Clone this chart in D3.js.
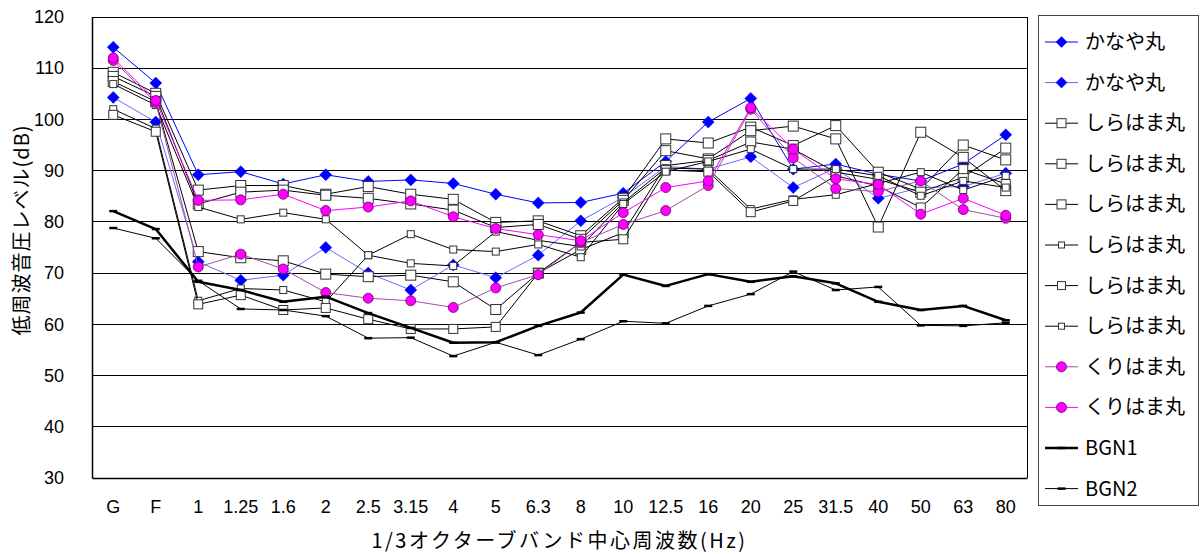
<!DOCTYPE html>
<html lang="ja">

<head>
    <meta charset="utf-8">
    <title>低周波音圧レベル</title>
    <script src="https://cdn.jsdelivr.net/npm/d3@7"></script>
    <style>
        body { margin: 0; background: #fff; }
        text { font-family: "Liberation Sans", Arial, "Noto Sans CJK JP", sans-serif; fill: #000; }
        .jp { font-family: "Noto Sans CJK JP", "Liberation Sans", sans-serif; }
    </style>
</head>

<body>
    <script type="text/javascript">
        // data
        var categories = ["G", "F", "1", "1.25", "1.6", "2", "2.5", "3.15", "4", "5", "6.3", "8", "10", "12.5", "16", "20", "25", "31.5", "40", "50", "63", "80"];
        var yTicks = [30, 40, 50, 60, 70, 80, 90, 100, 110, 120];

        var kanaya1 = [114.1, 107.1, 89.2, 89.8, 87.4, 89.2, 87.9, 88.2, 87.5, 85.4, 83.7, 83.8, 85.6, 91.8, 99.5, 104.1, 90.3, 91.3, 89.3, 88.0, 91.3, 97.0];
        var kanaya2 = [104.3, 99.5, 72.2, 68.6, 69.6, 75.0, 70.0, 66.7, 71.6, 69.1, 73.5, 80.2, 84.8, 90.8, 90.3, 92.7, 86.7, 90.5, 84.6, 86.7, 86.9, 89.5];
        var shira1 = [109.2, 105.1, 86.2, 87.1, 87.1, 85.4, 86.9, 85.4, 84.4, 79.9, 80.2, 77.3, 84.6, 96.2, 95.4, 98.5, 94.9, 98.8, 89.7, 86.4, 95.0, 92.1];
        var shira2 = [108.4, 104.5, 83.5, 85.8, 86.2, 85.2, 84.6, 83.5, 82.3, 78.9, 79.5, 76.6, 84.2, 93.9, 92.3, 97.8, 98.7, 96.2, 79.0, 97.5, 92.6, 86.1];
        var shira3 = [107.4, 103.5, 74.2, 73.0, 72.4, 69.8, 69.3, 69.6, 68.3, 62.9, 70.0, 74.6, 77.9, 91.0, 92.0, 95.6, 94.2, 89.7, 88.3, 85.8, 88.7, 94.4];
        var shira4 = [102.0, 98.2, 64.6, 67.0, 66.7, 64.4, 73.5, 71.9, 71.4, 78.1, 76.4, 75.2, 83.8, 90.5, 90.3, 82.5, 84.4, 85.3, 87.5, 89.7, 86.2, 89.0];
        var shira5 = [100.9, 97.6, 63.9, 65.7, 62.8, 63.2, 61.0, 59.1, 59.1, 59.5, 70.0, 76.0, 76.6, 90.1, 89.8, 81.9, 84.1, 89.0, 87.0, 82.8, 90.3, 87.4];
        var shira6 = [106.9, 102.8, 82.9, 80.5, 81.8, 80.5, 73.5, 77.6, 74.6, 74.2, 75.6, 73.1, 83.5, 89.8, 91.8, 94.2, 90.3, 90.3, 89.0, 85.1, 88.0, 86.7];
        var kuri1 = [111.5, 103.3, 71.2, 73.7, 70.8, 66.2, 65.1, 64.6, 63.3, 67.1, 69.7, 76.0, 79.5, 82.2, 87.1, 102.0, 92.5, 86.5, 85.9, 88.0, 82.4, 80.7];
        var kuri2 = [112.0, 103.7, 84.2, 84.3, 85.4, 82.2, 82.9, 84.1, 81.0, 78.7, 77.5, 76.3, 81.8, 86.7, 88.0, 102.3, 94.2, 88.4, 87.3, 81.5, 84.6, 81.3];
        var bgn1 = [82.1, 78.6, 68.3, 66.7, 64.4, 65.4, 62.2, 59.3, 56.4, 56.5, 59.7, 62.3, 69.7, 67.5, 69.8, 68.3, 69.4, 68.0, 64.4, 62.8, 63.6, 60.8];
        var bgn2 = [78.8, 76.8, 68.5, 63.0, 62.8, 61.6, 57.3, 57.4, 53.8, 56.5, 54.0, 57.1, 60.6, 60.2, 63.6, 65.9, 70.3, 66.7, 67.3, 59.8, 59.7, 60.3];

        // series table built from the arrays above (draw order = legend order)
        var series = [
            { name: "かなや丸", values: kanaya1, line: "#0000ff", lw: 1, marker: "diamond", size: 6, fill: "#0000ff", stroke: "#0000ff" },
            { name: "かなや丸", values: kanaya2, line: "#6a6aff", lw: 1, marker: "diamond", size: 6, fill: "#0000ff", stroke: "#0000ff" },
            { name: "しらはま丸", values: shira1, line: "#000", lw: 1, marker: "square", size: 9, fill: "#fff", stroke: "#333" },
            { name: "しらはま丸", values: shira2, line: "#000", lw: 1, marker: "square", size: 9, fill: "#fff", stroke: "#333" },
            { name: "しらはま丸", values: shira3, line: "#000", lw: 1, marker: "square", size: 9, fill: "#fff", stroke: "#333" },
            { name: "しらはま丸", values: shira4, line: "#000", lw: 1, marker: "square", size: 6, fill: "#fff", stroke: "#333" },
            { name: "しらはま丸", values: shira5, line: "#000", lw: 1, marker: "square", size: 8, fill: "#fff", stroke: "#333" },
            { name: "しらはま丸", values: shira6, line: "#000", lw: 1, marker: "square", size: 6, fill: "#fff", stroke: "#333" },
            { name: "くりはま丸", values: kuri1, line: "#a050a0", lw: 1, marker: "circle", size: 5, fill: "#ff00ff", stroke: "#660066" },
            { name: "くりはま丸", values: kuri2, line: "#ff00ff", lw: 1, marker: "circle", size: 5, fill: "#ff00ff", stroke: "#660066" },
            { name: "BGN1", values: bgn1, line: "#000", lw: 2.5, marker: "dash", size: 4, fill: "#000", stroke: "#000" },
            { name: "BGN2", values: bgn2, line: "#000", lw: 1, marker: "dash", size: 4, fill: "#000", stroke: "#000" }
        ];

        var w = 1200, h = 554;
        var plotL = 92, plotR = 1027, plotT = 17, plotB = 478;

        var svg = d3.select("body").append("svg")
            .attr("width", w)
            .attr("height", h);

        //scales
        var xScale = d3.scaleBand()
            .domain(categories)
            .range([plotL, plotR]);
        var yScale = d3.scaleLinear()
            .domain([30, 120])
            .range([plotB, plotT]);
        var cx = function(c) { return xScale(c) + xScale.bandwidth() / 2; };

        //gridlines
        svg.append("g")
            .selectAll("line")
            .data(yTicks.filter(function(d) { return d > 30; }))
            .enter()
            .append("line")
            .attr("x1", plotL)
            .attr("x2", plotR)
            .attr("y1", function(d) { return yScale(d); })
            .attr("y2", function(d) { return yScale(d); })
            .attr("stroke", "#000")
            .attr("stroke-width", 1)
            .attr("shape-rendering", "crispEdges");

        // right border
        svg.append("line")
            .attr("x1", plotR).attr("x2", plotR)
            .attr("y1", plotT).attr("y2", plotB)
            .attr("stroke", "#000")
            .attr("shape-rendering", "crispEdges");

        //axes
        var yAxis = d3.axisLeft(yScale)
            .tickValues(yTicks)
            .tickSize(0)
            .tickPadding(28);
        var gy = svg.append("g")
            .attr("transform", "translate(" + plotL + ",0)")
            .call(yAxis);
        gy.select(".domain").attr("stroke", "#000").attr("stroke-width", 1.5);
        gy.selectAll("text").attr("font-size", 18).attr("font-family", "Liberation Sans, Arial, sans-serif");

        var xAxis = d3.axisBottom(xScale)
            .tickSize(0)
            .tickPadding(22);
        var gx = svg.append("g")
            .attr("transform", "translate(0," + plotB + ")")
            .call(xAxis);
        gx.select(".domain").attr("stroke", "#000").attr("stroke-width", 1.5);
        gx.selectAll("text").attr("font-size", 18).attr("font-family", "Liberation Sans, Arial, sans-serif");

        //axis titles
        svg.append("text")
            .attr("class", "jp")
            .attr("transform", "translate(29,230) rotate(-90)")
            .attr("text-anchor", "middle")
            .attr("font-size", 20)
            .attr("letter-spacing", 1)
            .text("低周波音圧レベル(dB)");
        svg.append("text")
            .attr("class", "jp")
            .attr("x", (plotL + plotR) / 2)
            .attr("y", 548)
            .attr("text-anchor", "middle")
            .attr("font-size", 20)
            .attr("letter-spacing", 2.5)
            .text("1/3オクターブバンド中心周波数(Hz)");

        // marker helper
        function drawMarker(g, s, x, y) {
            var r = s.size;
            if (s.marker == "diamond") {
                g.append("path")
                    .attr("d", "M" + x + "," + (y - r) + "L" + (x + r) + "," + y + "L" + x + "," + (y + r) + "L" + (x - r) + "," + y + "Z")
                    .attr("fill", s.fill).attr("stroke", s.stroke).attr("stroke-width", 0.5);
            } else if (s.marker == "square") {
                g.append("rect")
                    .attr("x", x - r / 2 - 0.5).attr("y", y - r / 2 - 0.5)
                    .attr("width", r + 1).attr("height", r + 1)
                    .attr("fill", s.fill).attr("stroke", s.stroke).attr("stroke-width", 1);
            } else if (s.marker == "circle") {
                g.append("circle")
                    .attr("cx", x).attr("cy", y).attr("r", r)
                    .attr("fill", s.fill).attr("stroke", s.stroke).attr("stroke-width", 0.8);
            } else {
                g.append("line")
                    .attr("x1", x - r).attr("x2", x + r)
                    .attr("y1", y).attr("y2", y)
                    .attr("stroke", s.stroke).attr("stroke-width", 2.5);
            }
        }

        //lines + markers
        var line = d3.line()
            .x(function(d, i) { return cx(categories[i]); })
            .y(function(d) { return yScale(d); });

        series.forEach(function(s) {
            var g = svg.append("g");
            g.append("path")
                .attr("d", line(s.values))
                .attr("fill", "none")
                .attr("stroke", s.line)
                .attr("stroke-width", s.lw)
                .attr("stroke-linejoin", "round");
            s.values.forEach(function(v, i) {
                drawMarker(g, s, cx(categories[i]), yScale(v));
            });
        });

        //legend
        var lg = svg.append("g");
        lg.append("rect")
            .attr("x", 1038.5).attr("y", 15.5)
            .attr("width", 160).attr("height", 490)
            .attr("fill", "#fff")
            .attr("stroke", "#444")
            .attr("stroke-width", 1);
        series.forEach(function(s, i) {
            var y = 42 + i * 40.6;
            lg.append("line")
                .attr("x1", 1045).attr("x2", 1078)
                .attr("y1", y).attr("y2", y)
                .attr("stroke", s.line)
                .attr("stroke-width", s.lw);
            var ms = Object.assign({}, s);
            if (s.marker == "square") ms.size = Math.max(4, s.size - 1);
            if (s.marker == "diamond") ms.size = 5.5;
            if (s.marker == "circle") ms.size = 5;
            drawMarker(lg, ms, 1061.5, y);
            lg.append("text")
                .attr("class", "jp")
                .attr("x", 1085)
                .attr("y", y + 7)
                .attr("font-size", 20)
                .text(s.name);
        });
    </script>
</body>

</html>
